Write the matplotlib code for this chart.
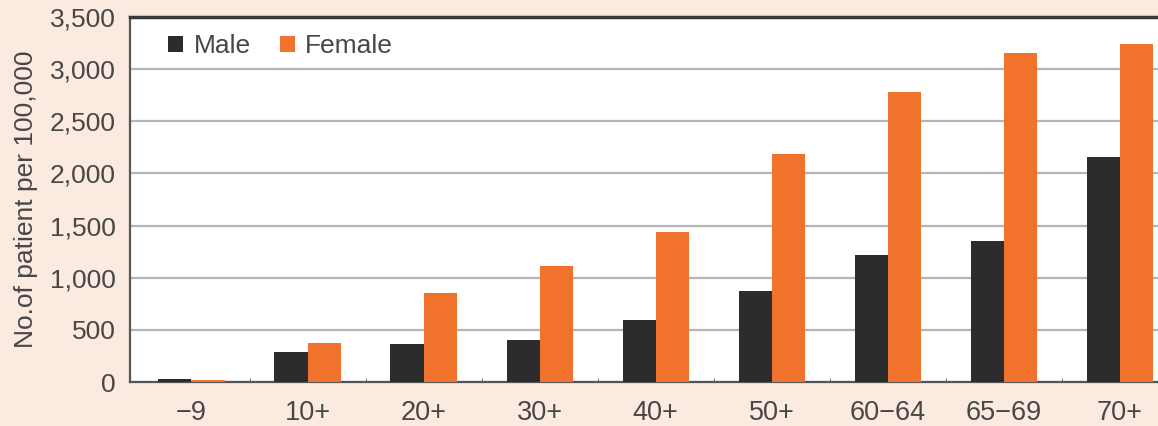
import matplotlib
matplotlib.use("Agg")
import matplotlib.pyplot as plt
import numpy as np

plt.rcParams['font.family'] = ['Liberation Sans', 'DejaVu Sans']

# Age groups and prevalence per 100,000 by sex
age_groups = ["\u22129", "10+", "20+", "30+", "40+", "50+", "60\u221264", "65\u221269", "70+"]
male = [30, 285, 368, 401, 593, 868, 1221, 1349, 2154]
female = [20, 378, 849, 1112, 1436, 2189, 2782, 3154, 3240]
y_ticks = [0, 500, 1000, 1500, 2000, 2500, 3000, 3500]

bg = "#fbeadf"
male_color = "#2c2c2c"
female_color = "#f0722d"
text_color = "#474747"

fig = plt.figure(figsize=(11.58, 4.26), dpi=100, facecolor=bg)
ax = fig.add_axes([130 / 1158, 44 / 426, 1 - 130 / 1158, (426 - 44 - 17) / 426])
ax.set_facecolor("white")

x = np.arange(len(age_groups))
w = 0.285
ax.bar(x - w / 2, male, w, color=male_color, label="Male", zorder=3)
ax.bar(x + w / 2, female, w, color=female_color, label="Female", zorder=3)

ax.set_xlim(-0.53, 8.33)
ax.set_ylim(0, 3500)
ax.set_yticks(y_ticks)
ax.set_yticklabels([f"{v:,}" for v in y_ticks], fontsize=19, color=text_color)
ax.set_xticks(x)
ax.set_xticklabels(age_groups, fontsize=19.5, color=text_color)
ax.tick_params(axis="x", length=0, pad=13)
ax.tick_params(axis="y", length=0, pad=10)

# small boundary marks between age groups
ax.set_xticks(x[:-1] + 0.5, minor=True)
ax.tick_params(axis="x", which="minor", direction="in", length=3, color="#555555")

ax.yaxis.grid(True, color="#b5b5b5", linewidth=1.6, zorder=0)
ax.set_axisbelow(True)

for side in ("left", "bottom"):
    ax.spines[side].set_color("#555555")
    ax.spines[side].set_linewidth(1.6)
ax.spines["top"].set_color("#3a3a3a")
ax.spines["top"].set_linewidth(2.5)
ax.spines["right"].set_visible(False)

ax.set_ylabel("No.of patient per 100,000", fontsize=19, color=text_color, labelpad=9)

leg = ax.legend(loc="upper left", ncol=2, frameon=False, fontsize=19,
                handlelength=0.57, handleheight=0.57, handletextpad=0.38,
                columnspacing=1.1, borderaxespad=0, bbox_to_anchor=(0.027, 0.982))
for t in leg.get_texts():
    t.set_color(text_color)

fig.savefig("out.png", dpi=100, facecolor=bg)
